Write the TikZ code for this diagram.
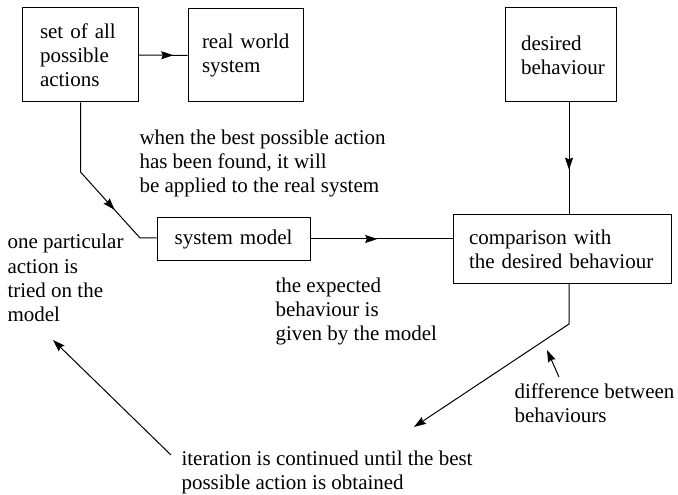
\documentclass[tikz,border=0pt]{standalone}
\usepackage{fontspec}
\setmainfont{Liberation Serif}
\usetikzlibrary{arrows.meta,decorations.markings}

\begin{document}
\begin{tikzpicture}[x=1bp,y=-1bp,line width=1bp,>={Stealth[length=12bp,width=8bp,inset=1.5bp]}]
    \tikzset{block/.style = {shape=rectangle, draw, align=left, font=\fontsize{21bp}{24bp}\selectfont}}
    \tikzset{note/.style = {align=left, inner sep=0pt, anchor=base west, font=\fontsize{21bp}{24bp}\selectfont}}
    \tikzset{midarrow/.style = {postaction={decorate}, decoration={markings, mark=at position #1 with {\arrow{>}}}}}
    \useasboundingbox (0,0) rectangle (678,495);

    % blocks
    \node[block, minimum width=115bp, minimum height=94bp, inner xsep=17bp, text width=81bp] (actions) at (80.5,55) {\mbox{set of all}\\possible\\actions};
    \node[block, minimum width=115bp, minimum height=93bp, inner xsep=14bp, text width=87bp] (real) at (245.5,55.5) {\mbox{real world}\\system};
    \node[block, minimum width=111bp, minimum height=94bp, inner xsep=16bp, text width=79bp] (desired) at (560.5,55) {desired\\behaviour};
    \node[block, align=center, minimum width=153bp, minimum height=42bp, text width=131bp, inner xsep=11bp] (model) at (233.5,239) {\mbox{system model}};
    \node[block, minimum width=218bp, minimum height=68bp, inner xsep=16bp, text width=186bp] (compare) at (562,249) {\mbox{comparison with}\\\mbox{the desired behaviour}};

    % notes (placed at the baseline of their last line)
    \node[note] (found) at (139,193) {when the best possible action\\has been found, it will\\be applied to the real system};
    \node[note] (tried) at (7,321) {one particular\\action is\\tried on the\\model};
    \node[note] (expected) at (275,340) {the expected\\behaviour is\\given by the model};
    \node[note] (diff) at (514,422) {difference between\\behaviours};
    \node[note] (iter) at (181,489) {iteration is continued until the best\\possible action is obtained};

    % bends and free ends
    \coordinate (bendA) at (80.5,172);
    \coordinate (bendB) at (140,238);
    \coordinate (bendC) at (569,324);
    \coordinate (iterTip) at (414,427);
    \coordinate (iterTail) at (171,455);
    \coordinate (triedTip) at (53,340);
    \coordinate (diffTail) at (559,377);
    \coordinate (diffTip) at (547,350);

    % connectors
    \draw[midarrow=0.71] (actions) -- (real);
    \draw[midarrow=0.69] (actions.south) -- (bendA) -- (bendB) -- (bendB -| model.west);
    \draw[midarrow=0.47] (model) -- (model -| compare.west);
    \draw[midarrow=0.6] ([xshift=8.5bp]desired.south) -- ([xshift=8.5bp]desired.south |- compare.north);
    \draw[->] ([xshift=7bp]compare.south) -- (bendC) -- (iterTip);
    \draw[->] (iterTail) -- (triedTip);
    \draw[->] (diffTail) -- (diffTip);
\end{tikzpicture}
\end{document}
